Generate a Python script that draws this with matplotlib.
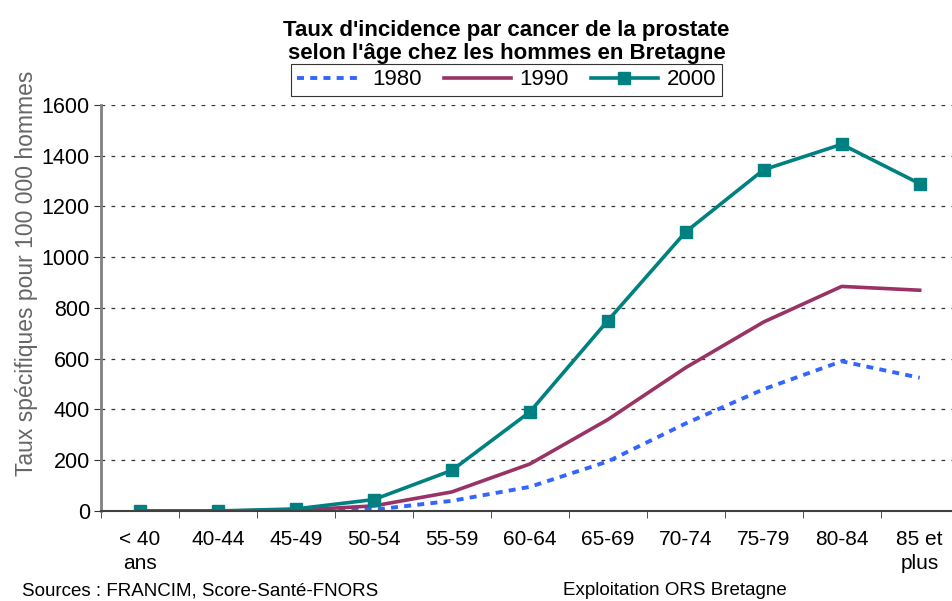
import matplotlib
matplotlib.use("Agg")
import matplotlib.pyplot as plt
import numpy as np

plt.rcParams['font.family'] = ['Liberation Sans', 'DejaVu Sans']

# tranches d'age
ages = ["< 40\nans", "40-44", "45-49", "50-54", "55-59", "60-64",
        "65-69", "70-74", "75-79", "80-84", "85 et\nplus"]
taux_1980 = [0, 0, 0, 5, 40, 95, 195, 345, 480, 590, 525]
taux_1990 = [0, 0, 3, 20, 75, 185, 360, 565, 745, 885, 870]
taux_2000 = [0, 0, 8, 45, 160, 390, 750, 1100, 1345, 1445, 1290]

fig = plt.figure(figsize=(9.52, 6.01), dpi=100)
ax = fig.add_axes([0.106, 0.1498, 0.901, 0.6755])

x = np.arange(len(ages))
ax.plot(x, taux_1980, color='#3366FF', lw=2.8, ls=(0, (1.8, 1.6)), label='1980')
ax.plot(x, taux_1990, color='#993366', lw=2.6, label='1990')
ax.plot(x, taux_2000, color='#008080', lw=2.6, marker='s', ms=8,
        label='2000')

ax.set_xlim(-0.5, len(ages) - 0.5)
ax.set_ylim(0, 1600)
ax.set_yticks(range(0, 1601, 200))
ax.set_xticks(x)
ax.set_xticklabels(ages, fontsize=15, linespacing=1.3)
ax.set_xticks(np.arange(-0.5, len(ages), 1), minor=True)
ax.tick_params(axis='x', which='major', length=0, pad=14)
ax.tick_params(axis='x', which='minor', length=5, direction='out', color='#333333')
ax.tick_params(axis='y', length=5, direction='out', labelsize=15.5, pad=3,
               color='#333333')

ax.yaxis.grid(True, color='#333333', ls=(0, (3, 5)), lw=0.9)
ax.set_axisbelow(True)
for s in ['top', 'right']:
    ax.spines[s].set_visible(False)
ax.spines['left'].set_color('#808080')
ax.spines['left'].set_linewidth(2)
ax.spines['bottom'].set_color('#404040')
ax.spines['bottom'].set_linewidth(1.5)

ax.set_ylabel("Taux spécifiques pour 100 000 hommes", fontsize=16.5,
              color='#666666')
ax.yaxis.set_label_coords(-0.073, 0.585)

fig.text(0.532, 0.93, "Taux d'incidence par cancer de la prostate\n"
         "selon l'âge chez les hommes en Bretagne",
         ha='center', va='center', fontsize=16, fontweight='bold',
         linespacing=1.15)

leg = fig.legend(loc='center', bbox_to_anchor=(0.532, 0.867), ncol=3,
                 fontsize=16, frameon=True, fancybox=False,
                 edgecolor='black', handlelength=3.0, handletextpad=0.4,
                 columnspacing=1.0, borderpad=0.25)
leg.get_frame().set_linewidth(0.8)

fig.text(0.023, 0.003, "Sources : FRANCIM, Score-Santé-FNORS", fontsize=13.5,
         va='bottom')
fig.text(0.591, 0.003, "Exploitation ORS Bretagne", fontsize=13.5,
         va='bottom')

fig.savefig("out.png", dpi=100)
